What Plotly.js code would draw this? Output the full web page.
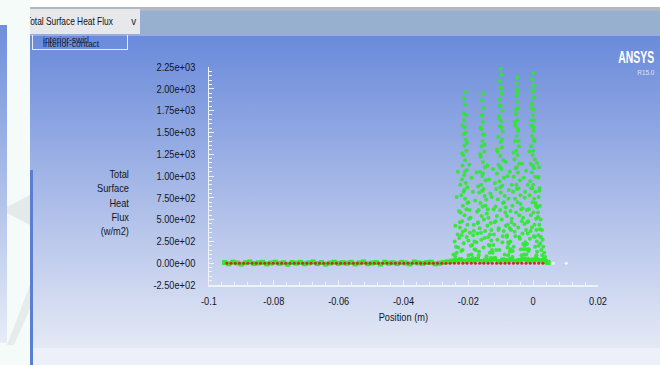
<!DOCTYPE html>
<html>
<head>
<meta charset="utf-8">
<script src="https://cdn.plot.ly/plotly-3.0.1.min.js"></script>
<style>
  html, body { margin: 0; padding: 0; background: #ffffff; }
  #wrap { position: relative; width: 660px; height: 365px; overflow: hidden; background: #ffffff;
          font-family: "Liberation Sans", Arial, sans-serif; }
  .abs { position: absolute; }
  #leftbg { left: 0; top: 0; width: 30px; height: 365px; background: #f5fbf8; }
  #leftstrip { left: 0; top: 25px; width: 7px; height: 318px; background: linear-gradient(#6f8fdc, #e7ecf7); }
  #wm1 { left: 7px; top: 195px; width: 23px; height: 30px; background: #e4e9ea; clip-path: polygon(0 40%, 100% 0, 100% 100%, 0 60%); }
  #wm2 { left: 7px; top: 285px; width: 23px; height: 60px; background: #e6ebec; clip-path: polygon(0 100%, 100% 0, 100% 40%, 30% 100%); }
  #grayline { left: 30px; top: 7px; width: 630px; height: 4px; background: #b2b8c2; }
  #header { left: 30px; top: 11px; width: 630px; height: 25px; background: #98b0d0; }
  #dropdown { left: 30px; top: 9px; width: 110px; height: 25px; background: #e6e8eb; overflow: hidden; }
  #ddtext { left: -4px; top: 6px; font-size: 11px; color: #111; white-space: nowrap; transform: scaleX(0.76); transform-origin: left top; }
  #ddchev { left: 101px; top: 6px; font-size: 11px; color: #222; transform: scaleX(0.9); }
  #plotbg { left: 30px; top: 36px; width: 630px; height: 312px; background: linear-gradient(#6a8bdb 0%, #8ea6e2 30%, #b4c3ea 60%, #e4e9f5 100%); }
  #bottomband { left: 30px; top: 348px; width: 630px; height: 17px; background: #edf0f8; }
  #vline { left: 30px; top: 170px; width: 3px; height: 195px; background: #5b7ed0; }
  #legbox { left: 32px; top: 35px; width: 94px; height: 14px; border: 1px solid #e4eaf7; border-top: none; }
  .legtxt { left: 10px; font-size: 8.5px; color: #121a40; white-space: nowrap; }
  #logo { right: 6px; top: 49px; font-size: 16px; font-weight: bold; color: #ffffff; transform: scaleX(0.65); transform-origin: right top; }
  #rel { right: 6px; top: 68px; font-size: 8px; color: #dfe6f5; transform: scaleX(0.8); transform-origin: right top; }
  #plot { left: 0; top: 0; width: 660px; height: 365px; }
</style>
</head>
<body>
<div id="wrap">
  <div class="abs" id="leftbg"></div>
  <div class="abs" id="leftstrip"></div>
  <div class="abs" id="wm1"></div>
  <div class="abs" id="wm2"></div>
  <div class="abs" id="grayline"></div>
  <div class="abs" id="header"></div>
  <div class="abs" id="dropdown"><span class="abs" id="ddtext">Total Surface Heat Flux</span><span class="abs" id="ddchev">v</span></div>
  <div class="abs" id="plotbg"></div>
  <div class="abs" id="bottomband"></div>
  <div class="abs" id="vline"></div>
  <div class="abs" id="legbox">
    <span class="abs legtxt" style="top:0px;">interior-swirl</span>
    <span class="abs legtxt" style="top:4px;">interior-contact</span>
  </div>
  <div class="abs" id="logo">ANSYS</div>
  <div class="abs" id="rel">R15.0</div>
  <div class="abs" id="plot"></div>
</div>
<script>
// ---- tick labels ----
const yTickVals = [-250, 0, 250, 500, 750, 1000, 1250, 1500, 1750, 2000, 2250];
const yTickText = ["-2.50e+02", "0.00e+00", "2.50e+02", "5.00e+02", "7.50e+02", "1.00e+03",
                   "1.25e+03", "1.50e+03", "1.75e+03", "2.00e+03", "2.25e+03"];
const xTickVals = [-0.1, -0.08, -0.06, -0.04, -0.02, 0, 0.02];
const xTickText = ["-0.1", "-0.08", "-0.06", "-0.04", "-0.02", "0", "0.02"];

// ---- interior-contact (red) : points on the wall line ----
const solidX = [-0.0945, -0.0932, -0.0919, -0.0906, -0.0893, -0.0880, -0.0867, -0.0854, -0.0841, -0.0828,
  -0.0815, -0.0802, -0.0789, -0.0776, -0.0763, -0.0750, -0.0737, -0.0724, -0.0711, -0.0698,
  -0.0685, -0.0672, -0.0659, -0.0646, -0.0633, -0.0620, -0.0607, -0.0594, -0.0581, -0.0568,
  -0.0555, -0.0542, -0.0529, -0.0516, -0.0503, -0.0490, -0.0477, -0.0464, -0.0451, -0.0438,
  -0.0425, -0.0412, -0.0399, -0.0386, -0.0373, -0.0360, -0.0347, -0.0334, -0.0321, -0.0308,
  -0.0295, -0.0282, -0.0269, -0.0256, -0.0243, -0.0230, -0.0217, -0.0204, -0.0191, -0.0178,
  -0.0165, -0.0152, -0.0139, -0.0126, -0.0113, -0.0100, -0.0087, -0.0074, -0.0061, -0.0048,
  -0.0035, -0.0022, -0.0009, 0.0004, 0.0017, 0.0030];
const solidY = [0, 0, 0, 0, 0, 0, 0, 0, 0, 0,  0, 0, 0, 0, 0, 0, 0, 0, 0, 0,
  0, 0, 0, 0, 0, 0, 0, 0, 0, 0,  0, 0, 0, 0, 0, 0, 0, 0, 0, 0,
  0, 0, 0, 0, 0, 0, 0, 0, 0, 0,  0, 0, 0, 0, 0, 0, 0, 0, 0, 0,
  0, 0, 0, 0, 0, 0, 0, 0, 0, 0,  0, 0, 0, 0, 0, 0];

// ---- interior-swirl (green) : baseline points ----
const swirlBaseX = [-0.0952, -0.0939, -0.0926, -0.0913, -0.0900, -0.0887, -0.0874, -0.0861, -0.0848, -0.0835,
  -0.0822, -0.0809, -0.0796, -0.0783, -0.0770, -0.0757, -0.0744, -0.0731, -0.0718, -0.0705,
  -0.0692, -0.0679, -0.0666, -0.0653, -0.0640, -0.0627, -0.0614, -0.0601, -0.0588, -0.0575,
  -0.0562, -0.0549, -0.0536, -0.0523, -0.0510, -0.0497, -0.0484, -0.0471, -0.0458, -0.0445,
  -0.0432, -0.0419, -0.0406, -0.0393, -0.0380, -0.0367, -0.0354, -0.0341, -0.0328, -0.0315,
  -0.0302, -0.0289, -0.0276, -0.0263, -0.0250, -0.0237, -0.0224, -0.0211, -0.0198, -0.0185,
  -0.0172, -0.0159, -0.0146, -0.0133, -0.0120, -0.0107, -0.0094, -0.0081, -0.0068, -0.0055,
  -0.0042, -0.0029, -0.0016, -0.0003, 0.0010, 0.0023, 0.0036, 0.0046];
const swirlBaseY = [8, -6, 12, 2, -10, 6, 14, -4, 4, 10,  -8, 2, 12, -2, 6, -12, 8, 0, 10, -6,
  4, 14, -4, 8, -10, 2, 12, -2, 6, 0,  10, -8, 4, 14, -6, 2, 8, -10, 12, 0,
  6, -4, 10, 2, -8, 14, 4, -2, 8, 12,  -6, 0, 10, 16, 24, 30, 40, 22, 36, 28,
  44, 20, 34, 26, 48, 18, 38, 30, 42, 24,  32, 46, 28, 36, 40, 30, 18, 8];

// ---- interior-swirl (green) : heat flux cloud in the swirl region ----
const swirlX = [
  // column near -0.021
  -0.0209, -0.0214, -0.0210, -0.0207, -0.0213, -0.0211, -0.0215, -0.0208, -0.0212, -0.0206,
  -0.0216, -0.0210, -0.0218, -0.0205, -0.0213, -0.0220, -0.0208, -0.0203, -0.0215, -0.0222,
  -0.0210, -0.0200, -0.0217, -0.0206, -0.0224, -0.0212, -0.0198, -0.0219, -0.0203, -0.0226,
  -0.0209, -0.0195, -0.0221, -0.0228, -0.0200, -0.0214, -0.0192, -0.0231, -0.0218, -0.0236,
  -0.0190, -0.0240, -0.0186, -0.0244, -0.0225,
  -0.0232, -0.0190, -0.0225, -0.0197, -0.0236, -0.0186, -0.0219, -0.0203, -0.0229, -0.0193,
  -0.0212, -0.0240, -0.0183, -0.0217, -0.0205, -0.0242, -0.0188, -0.0222, -0.0199, -0.0246,
  -0.0208, -0.0214, -0.0204, -0.0218, -0.0211, -0.0226, -0.0196, -0.0233, -0.0181, -0.0238,
  // column near -0.0155
  -0.0154, -0.0158, -0.0153, -0.0157, -0.0155, -0.0160, -0.0152, -0.0156, -0.0159, -0.0151,
  -0.0162, -0.0155, -0.0149, -0.0164, -0.0157, -0.0147, -0.0161, -0.0153, -0.0166, -0.0150,
  -0.0145, -0.0163, -0.0156, -0.0168, -0.0143, -0.0159, -0.0152, -0.0170, -0.0141, -0.0165,
  -0.0148, -0.0172, -0.0139, -0.0160, -0.0175, -0.0137, -0.0153, -0.0177, -0.0134, -0.0168,
  -0.0131, -0.0179,
  -0.0175, -0.0136, -0.0170, -0.0141, -0.0179, -0.0132, -0.0163, -0.0147, -0.0173, -0.0138,
  -0.0157, -0.0183, -0.0129, -0.0161, -0.0150, -0.0181, -0.0134, -0.0167, -0.0144, -0.0154,
  -0.0158, -0.0150, -0.0162, -0.0155, -0.0171, -0.0140, -0.0185, -0.0127,
  // column near -0.010
  -0.0101, -0.0098, -0.0103, -0.0100, -0.0097, -0.0104, -0.0101, -0.0095, -0.0106, -0.0099,
  -0.0103, -0.0094, -0.0108, -0.0100, -0.0096, -0.0110, -0.0102, -0.0092, -0.0107, -0.0098,
  -0.0112, -0.0090, -0.0104, -0.0095, -0.0114, -0.0100, -0.0088, -0.0109, -0.0093, -0.0116,
  -0.0102, -0.0086, -0.0112, -0.0097, -0.0119, -0.0084, -0.0106, -0.0091, -0.0121, -0.0081,
  -0.0110, -0.0095, -0.0123, -0.0079, -0.0104, -0.0125, -0.0077, -0.0117, -0.0085,
  -0.0124, -0.0079, -0.0118, -0.0084, -0.0128, -0.0075, -0.0111, -0.0090, -0.0122, -0.0081,
  -0.0101, -0.0131, -0.0072, -0.0107, -0.0094, -0.0129, -0.0076, -0.0114, -0.0088, -0.0098,
  -0.0104, -0.0096, -0.0106, -0.0100, -0.0116, -0.0085, -0.0133, -0.0070, -0.0102,
  // column near -0.005
  -0.0049, -0.0051, -0.0048, -0.0052, -0.0050, -0.0047, -0.0053, -0.0049, -0.0055, -0.0046,
  -0.0051, -0.0056, -0.0044, -0.0052, -0.0048, -0.0058, -0.0043, -0.0054, -0.0047, -0.0060,
  -0.0041, -0.0052, -0.0045, -0.0062, -0.0039, -0.0056, -0.0048, -0.0064, -0.0037, -0.0053,
  -0.0043, -0.0066, -0.0035, -0.0058, -0.0046, -0.0068, -0.0033, -0.0055, -0.0041, -0.0070,
  -0.0031, -0.0060, -0.0038, -0.0072, -0.0028, -0.0064, -0.0034,
  -0.0072, -0.0029, -0.0066, -0.0034, -0.0076, -0.0025, -0.0061, -0.0039, -0.0070, -0.0031,
  -0.0050, -0.0079, -0.0022, -0.0057, -0.0043, -0.0077, -0.0026, -0.0063, -0.0036, -0.0047,
  -0.0053, -0.0045, -0.0055, -0.0050, -0.0067, -0.0033, -0.0081, -0.0020, -0.0051,
  // column near 0
  0.0000, -0.0003, 0.0001, -0.0002, 0.0002, -0.0004, 0.0000, -0.0001, 0.0003, -0.0005,
  0.0001, -0.0003, 0.0004, -0.0006, 0.0000, -0.0002, 0.0005, -0.0008, 0.0002, -0.0004,
  0.0006, -0.0009, 0.0000, -0.0006, 0.0007, -0.0011, 0.0003, -0.0002, 0.0008, -0.0013,
  0.0001, -0.0007, 0.0009, -0.0015, 0.0004, -0.0004, 0.0010, -0.0017, 0.0002, -0.0010,
  0.0011, -0.0019, 0.0006, -0.0013, 0.0012, -0.0021, 0.0008, -0.0016,
  -0.0022, 0.0016, -0.0017, 0.0012, -0.0026, 0.0019, -0.0012, 0.0008, -0.0020, 0.0015,
  -0.0003, -0.0027, 0.0021, -0.0008, 0.0005, -0.0024, 0.0017, -0.0014, 0.0010, 0.0001,
  -0.0004, 0.0003, -0.0006, 0.0000, -0.0018, 0.0013, 0.0024, -0.0029, -0.0001,
  // trailing points near 0.003
  0.0018, 0.0016, 0.0020, 0.0017, 0.0021, 0.0015, 0.0023, 0.0019, 0.0027, 0.0016,
  0.0029, 0.0022, 0.0031, 0.0025, 0.0034, 0.0028, 0.0037, 0.0032, 0.0040, 0.0043];
const swirlY = [
  1960, 1890, 1820, 1700, 1640, 1560, 1480, 1420, 1350, 1290,
  1240, 1180, 1120, 1070, 1010, 960, 920, 870, 820, 780,
  740, 700, 660, 620, 580, 550, 510, 480, 440, 410,
  380, 350, 320, 290, 260, 230, 200, 180, 150, 120,
  100, 80, 60, 40, 30,
  1050, 980, 900, 1130, 760, 820, 1260, 690, 600, 520,
  840, 430, 370, 360, 300, 250, 210, 140, 90, 100,
  1500, 1720, 1380, 1580, 1050, 470, 610, 330, 160, 190,
  1950, 1870, 1780, 1700, 1620, 1540, 1470, 1400, 1340, 1280,
  1220, 1160, 1100, 1050, 1000, 950, 900, 850, 810, 770,
  730, 690, 650, 610, 570, 540, 500, 470, 430, 400,
  370, 340, 300, 270, 240, 210, 180, 150, 120, 90,
  60, 40,
  1040, 960, 880, 1120, 720, 800, 1250, 660, 590, 520,
  830, 440, 380, 350, 290, 250, 200, 130, 80, 1480,
  1690, 1360, 1560, 1030, 460, 620, 320, 150,
  2230, 2160, 2090, 2020, 1950, 1880, 1810, 1750, 1690, 1630,
  1570, 1510, 1450, 1390, 1330, 1280, 1230, 1180, 1130, 1080,
  1030, 980, 940, 890, 850, 810, 770, 730, 690, 650,
  610, 580, 540, 500, 470, 430, 400, 370, 330, 300,
  270, 240, 210, 180, 150, 120, 90, 60, 40,
  1080, 1000, 920, 1160, 760, 840, 1300, 700, 620, 540,
  870, 460, 400, 380, 310, 260, 220, 150, 100, 1560,
  1800, 1420, 1660, 2000, 480, 640, 330, 160, 1100,
  2130, 2060, 1990, 1920, 1850, 1780, 1710, 1640, 1580, 1520,
  1460, 1400, 1340, 1290, 1240, 1190, 1140, 1090, 1040, 990,
  950, 900, 860, 820, 780, 740, 700, 660, 620, 580,
  550, 510, 480, 440, 410, 380, 340, 310, 280, 250,
  220, 190, 160, 130, 100, 70, 50,
  1050, 980, 900, 1140, 740, 820, 1270, 680, 600, 520,
  850, 440, 380, 360, 300, 240, 200, 140, 90, 1540,
  1760, 1400, 1620, 1950, 470, 630, 320, 160, 1100,
  2180, 2110, 2040, 1970, 1900, 1830, 1760, 1700, 1640, 1580,
  1520, 1460, 1400, 1340, 1290, 1240, 1190, 1140, 1090, 1040,
  990, 940, 900, 860, 820, 780, 740, 700, 660, 620,
  580, 550, 510, 480, 440, 410, 380, 340, 310, 280,
  250, 220, 190, 160, 130, 100, 70, 50,
  1060, 990, 900, 1150, 750, 830, 1280, 690, 610, 530,
  860, 450, 390, 370, 300, 240, 200, 140, 90, 1560,
  1780, 1420, 1640, 1980, 470, 640, 300, 160, 1120,
  1100, 980, 860, 760, 660, 580, 500, 440, 380, 320,
  270, 230, 190, 150, 120, 90, 70, 50, 30, 20];

// ---- isolated points past the swirl region ----
const extraX = [0.0062, 0.0102];
const extraY = [0, 0];

const green = '#2fe82f';
const axisCol = '#eef2fa';
const fontStack = '"Liberation Sans", Arial, sans-serif';
const txtCol = '#15151f';

const traces = [
  { x: swirlBaseX, y: swirlBaseY, type: 'scatter', mode: 'markers', name: 'interior-swirl',
    marker: { color: green, size: 5, symbol: 'square', line: { width: 0 } }, hoverinfo: 'skip' },
  { x: swirlX, y: swirlY, type: 'scatter', mode: 'markers', name: 'interior-swirl',
    marker: { color: green, size: 4, opacity: 0.9, line: { width: 0 } }, hoverinfo: 'skip' },
  { x: solidX, y: solidY, type: 'scatter', mode: 'markers', name: 'interior-contact',
    marker: { color: '#d8262a', size: 3, line: { width: 0 } }, hoverinfo: 'skip' },
  { x: extraX, y: extraY, type: 'scatter', mode: 'markers', name: 'other',
    marker: { color: '#f4f6fc', size: 3, line: { width: 0 } }, hoverinfo: 'skip' }
];

const layout = {
  width: 660, height: 365,
  margin: { l: 209, r: 62, t: 67, b: 80, pad: 0 },
  paper_bgcolor: 'rgba(0,0,0,0)',
  plot_bgcolor: 'rgba(0,0,0,0)',
  showlegend: false,
  font: { family: fontStack, size: 11, color: txtCol },
  xaxis: {
    range: [-0.1, 0.02], showgrid: false, zeroline: false,
    showline: true, linecolor: axisCol, linewidth: 1.5,
    ticks: 'inside', ticklen: 5, tickcolor: axisCol, tickwidth: 1,
    tickmode: 'array', tickvals: xTickVals, ticktext: xTickText,
    ticklabelstandoff: 5,
    minor: { ticks: 'inside', ticklen: 3, tickcolor: axisCol, dtick: 0.004, showgrid: false },
    tickfont: { family: fontStack, size: 11, color: txtCol }
  },
  yaxis: {
    range: [-250, 2250], showgrid: false, zeroline: false,
    showline: true, linecolor: axisCol, linewidth: 1.5,
    ticks: 'inside', ticklen: 5, tickcolor: axisCol, tickwidth: 1,
    tickmode: 'array', tickvals: yTickVals, ticktext: yTickText,
    ticklabelstandoff: 10,
    minor: { ticks: 'inside', ticklen: 3, tickcolor: axisCol, dtick: 50, showgrid: false },
    tickfont: { family: fontStack, size: 11, color: txtCol }
  },
  annotations: [
    { text: 'Total<br>Surface<br>Heat<br>Flux<br>(w/m2)', xref: 'paper', yref: 'paper',
      x: -0.2, y: 0.38, xanchor: 'right', yanchor: 'middle', align: 'right', showarrow: false,
      font: { family: fontStack, size: 11, color: txtCol } },
    { text: 'Position (m)', xref: 'paper', yref: 'paper',
      x: 0.5, y: -0.147, xanchor: 'center', yanchor: 'middle', showarrow: false,
      font: { family: fontStack, size: 11, color: txtCol } }
  ]
};

// narrow the SVG texts (the original uses a condensed face) while keeping their anchors
function condense(gd, factor) {
  const fit = (el) => {
    const L = el.getComputedTextLength();
    if (L > 0) {
      el.setAttribute('textLength', (L * factor).toFixed(2));
      el.setAttribute('lengthAdjust', 'spacingAndGlyphs');
    }
  };
  gd.querySelectorAll('.xtick text, .ytick text').forEach(fit);
  gd.querySelectorAll('.annotation-text').forEach(t => {
    const lines = t.querySelectorAll('tspan.line');
    if (lines.length) lines.forEach(fit); else fit(t);
  });
}

Plotly.newPlot('plot', traces, layout, { displayModeBar: false, staticPlot: true })
  .then(gd => condense(gd, 0.84));
</script>
</body>
</html>
